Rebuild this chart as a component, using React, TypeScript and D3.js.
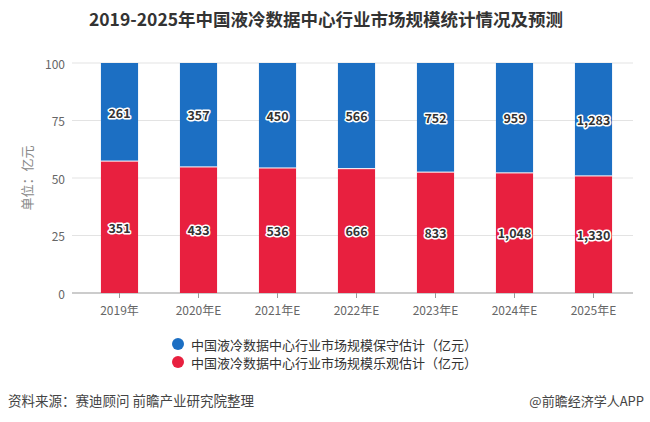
import React from "react";
import * as d3 from "d3";

const categories = ["2019年", "2020年E", "2021年E", "2022年E", "2023年E", "2024年E", "2025年E"];
const conservative = [261, 357, 450, 566, 752, 959, 1283];
const optimistic = [351, 433, 536, 666, 833, 1048, 1330];
const yTicks = [0, 25, 50, 75, 100];
const seriesNames = ["中国液冷数据中心行业市场规模保守估计（亿元）", "中国液冷数据中心行业市场规模乐观估计（亿元）"];
const title = "2019-2025年中国液冷数据中心行业市场规模统计情况及预测";
const source = "资料来源：赛迪顾问 前瞻产业研究院整理";
const credit = "@前瞻经济学人APP";

const BLUE = "#1C6FC3";
const RED = "#E8203F";
const FONT = "'Noto Sans CJK SC', 'Microsoft YaHei', sans-serif";

export default function App() {
  const W = 650, H = 422;
  const x = d3.scaleBand<string>().domain(categories).range([80, 633]).paddingInner(0.53).paddingOuter(0.265);
  const y = d3.scaleLinear().domain([0, 100]).range([293, 63]);
  const fmt = d3.format(",");

  const rows = categories.map((c, i) => {
    const total = optimistic[i] + conservative[i];
    const rp = (optimistic[i] / total) * 100;
    return { c, i, rp };
  });

  const haloText = (tx: number, ty: number, txt: string, key: string) => (
    <g key={key}>
      <text x={tx} y={ty} textAnchor="middle" dominantBaseline="central" fontSize={12.5} fontWeight={700}
        fontFamily={FONT} stroke="#fff" strokeWidth={3} strokeLinejoin="round" fill="#fff">{txt}</text>
      <text x={tx} y={ty} textAnchor="middle" dominantBaseline="central" fontSize={12.5} fontWeight={700}
        fontFamily={FONT} fill="#333">{txt}</text>
    </g>
  );

  return (
    <svg width={W} height={H} style={{ position: "absolute", left: 0, top: 0, background: "#fff" }} fontFamily={FONT}>
      <rect width={W} height={H} fill="#fff" />
      <text x={326} y={26} textAnchor="middle" fontSize={17.5} fontWeight={700} fill="#333">{title}</text>

      {yTicks.map((t) => (
        <g key={t}>
          <line x1={72} x2={633} y1={y(t)} y2={y(t)} stroke={t === 0 ? "#999" : "#e3e3e3"} strokeWidth={1} />
          <text x={65} y={y(t)} textAnchor="end" dominantBaseline="central" fontSize={12} fill="#666">{t}</text>
        </g>
      ))}

      <text transform={`translate(26,178) rotate(-90)`} textAnchor="middle" dominantBaseline="central" fontSize={13} fill="#888">单位：亿元</text>

      {rows.map(({ c, rp }) => {
        const bx = x(c)!;
        const bw = x.bandwidth();
        return (
          <g key={c}>
            <rect x={bx} y={y(100)} width={bw} height={y(rp) - y(100)} fill={BLUE} />
            <rect x={bx} y={y(rp)} width={bw} height={y(0) - y(rp)} fill={RED} />
            <line x1={bx} x2={bx + bw} y1={y(rp)} y2={y(rp)} stroke="#fff" strokeWidth={1} />
          </g>
        );
      })}

      {rows.map(({ c, i, rp }) => {
        const cx = x(c)! + x.bandwidth() / 2;
        return (
          <g key={"l" + c}>
            {haloText(cx, y((100 + rp) / 2), fmt(conservative[i]), "b")}
            {haloText(cx, y(rp / 2), fmt(optimistic[i]), "r")}
          </g>
        );
      })}

      {categories.map((c) => {
        const cx = x(c)! + x.bandwidth() / 2;
        return (
          <g key={"t" + c}>
            <line x1={cx} x2={cx} y1={293} y2={298} stroke="#999" />
            <text x={cx} y={309} textAnchor="middle" dominantBaseline="central" fontSize={12} fill="#666">{c}</text>
          </g>
        );
      })}

      {seriesNames.map((n, k) => (
        <g key={n}>
          <circle cx={178} cy={344 + k * 18} r={6} fill={k === 0 ? BLUE : RED} />
          <text x={191} y={344 + k * 18} dominantBaseline="central" fontSize={13} fill="#333">{n}</text>
        </g>
      ))}

      <text x={8} y={400} dominantBaseline="central" fontSize={13.5} fill="#444">{source}</text>
      <text x={644} y={400} textAnchor="end" dominantBaseline="central" fontSize={13} fill="#444">{credit}</text>
    </svg>
  );
}
